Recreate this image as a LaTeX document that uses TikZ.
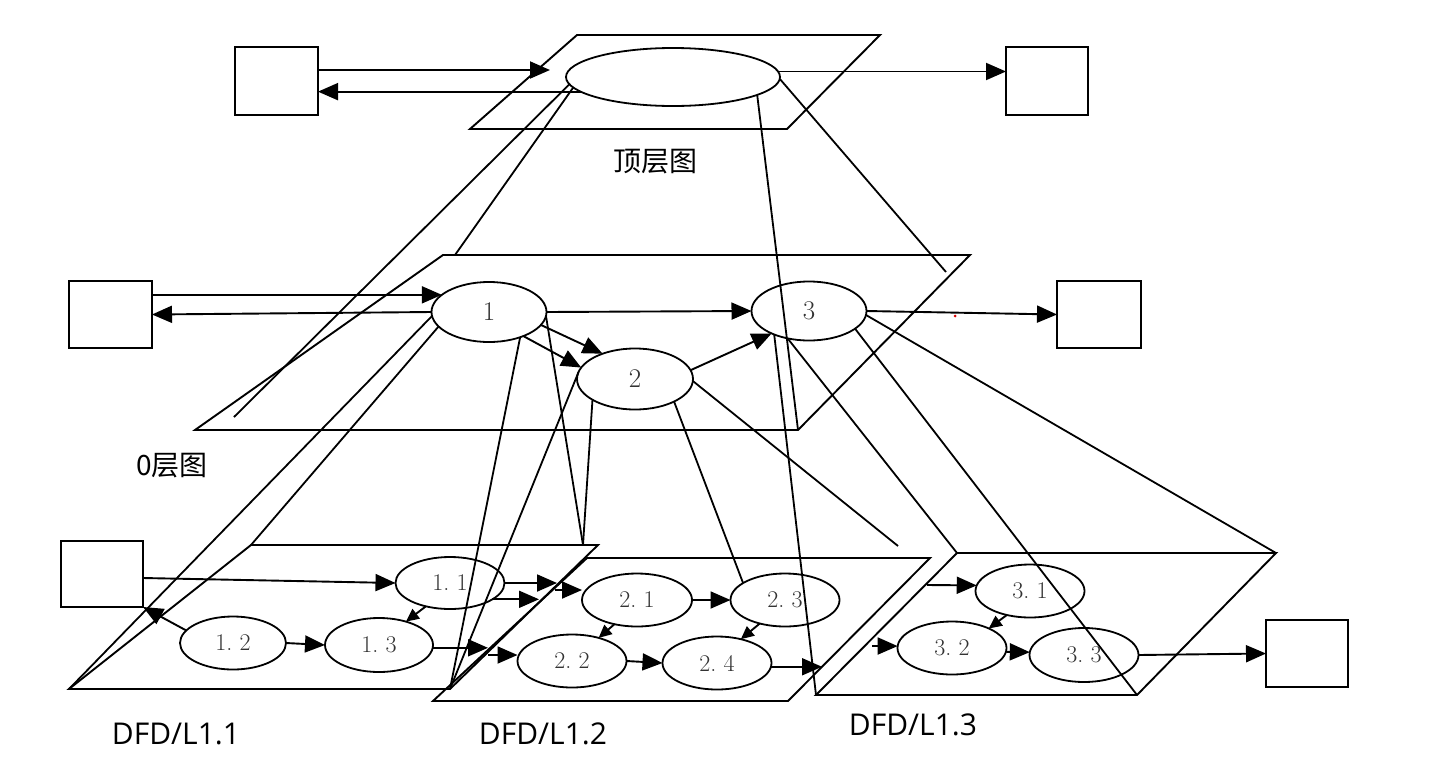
\documentclass[tikz,border=0pt]{standalone}
\usepackage{fontspec}
\newfontfamily\cjk{Noto Sans CJK SC}
\newfontfamily\labelsans{Open Sans}
\usetikzlibrary{arrows.meta,shapes.geometric}

\begin{document}
\begin{tikzpicture}[x=1pt,y=-1pt,
  line width=1.9pt,
  every node/.style={inner sep=0pt,outer sep=0pt},
  ext/.style={draw,rectangle,line width=1.9pt},
  bub/.style={draw,ellipse,line width=1.8pt,text=black!80,
    font=\fontsize{24}{24}\selectfont},
  bigbub/.style={bub,font=\fontsize{27}{27}\selectfont},
  flow/.style={-{Triangle[length=20pt,width=17pt]}},
  sflow/.style={-{Triangle[length=13pt,width=12pt]}},
  plane/.style={line width=1.9pt,line join=miter},
  proj/.style={line width=1.8pt},
  cjklabel/.style={font=\cjk\fontsize{28}{28}\selectfont},
  dfdlabel/.style={font=\labelsans\fontsize{30}{30}\selectfont},
]
\useasboundingbox (0,0) rectangle (1429,766);

% ---------- plane corners ----------
\coordinate (p0a) at (577,35);  \coordinate (p0b) at (880,35);
\coordinate (p0c) at (787,129); \coordinate (p0d) at (470,129);
\coordinate (p1a) at (443,255); \coordinate (p1b) at (970,255);
\coordinate (p1c) at (798,430); \coordinate (p1d) at (195,430);
\coordinate (p2aa) at (251,545); \coordinate (p2ab) at (598,545);
\coordinate (p2ac) at (450,689); \coordinate (p2ad) at (69,689);
\coordinate (p2ba) at (587,558); \coordinate (p2bb) at (930,558);
\coordinate (p2bc) at (788,701); \coordinate (p2bd) at (433,701);
\coordinate (p2ca) at (957,553); \coordinate (p2cb) at (1276,553);
\coordinate (p2cc) at (1137,695); \coordinate (p2cd) at (816,695);

\draw[plane] (p0a) -- (p0b) -- (p0c) -- (p0d) -- cycle;
\draw[plane] (p1a) -- (p1b) -- (p1c) -- (p1d) -- cycle;
\draw[plane] (p2aa) -- (p2ab) -- (p2ac) -- (p2ad) -- cycle;
\draw[plane] (p2ba) -- (p2bb) -- (p2bc) -- (p2bd) -- cycle;
\draw[plane] (p2ca) -- (p2cb) -- (p2cc) -- (p2cd) -- cycle;

% ---------- top level ----------
\node[ext,minimum width=83pt,minimum height=68pt] (b0l) at (276.5,81) {};
\node[ext,minimum width=82pt,minimum height=68pt] (b0r) at (1047,81) {};
\node[bub,minimum width=214pt,minimum height=58pt] (E0) at (673,77) {};

\coordinate (t0in) at (550,70);
\draw[flow] (b0l.east |- t0in) -- (t0in);
\draw[flow] (E0.189) -- (E0.189 -| b0l.east);
\draw[flow] (E0.3) -- (E0.3 -| b0r.west);

% ---------- level 0 ----------
\node[ext,minimum width=83pt,minimum height=67pt] (b1l) at (110.5,314.5) {};
\node[ext,minimum width=84pt,minimum height=67pt] (b1r) at (1099,314.5) {};
\node[bigbub,minimum width=115pt,minimum height=60pt] (e1) at (489,312) {1};
\node[bigbub,minimum width=116pt,minimum height=61pt] (e2) at (635,379) {2};
\node[bigbub,minimum width=115pt,minimum height=59pt] (e3) at (809,311) {3};

\draw[flow] (b1l.east |- e1.160) -- (e1.160);
\draw[flow] (e1.west) -- (b1l.east);
\draw[flow] (e1.east) -- (e3.west);
\draw[flow] (e1.346) -- (e2.142);
\draw[flow] (e1.325) -- (e2.168);
\draw[flow] (e2.9) -- (e3.211);
\draw[flow] (e3.east) -- (b1r.west);
\fill[red!85!black] (955,316) circle (1.5pt);

% ---------- level 1 ----------
\node[ext,minimum width=82pt,minimum height=66pt] (b2l) at (102,574) {};
\node[ext,minimum width=82pt,minimum height=67pt] (b2r) at (1307,653.5) {};

\node[bub,minimum width=109pt,minimum height=52pt] (e11) at (450,583) {1.\ 1};
\node[bub,minimum width=106pt,minimum height=53pt] (e12) at (233,643) {1.\ 2};
\node[bub,minimum width=108pt,minimum height=54pt] (e13) at (379,645) {1.\ 3};
\node[bub,minimum width=110pt,minimum height=53pt] (e21) at (637,600) {2.\ 1};
\node[bub,minimum width=109pt,minimum height=53pt] (e22) at (572,661) {2.\ 2};
\node[bub,minimum width=109pt,minimum height=53pt] (e23) at (785,600) {2.\ 3};
\node[bub,minimum width=109pt,minimum height=53pt] (e24) at (717,663) {2.\ 4};
\node[bub,minimum width=109pt,minimum height=53pt] (e31) at (1030,591) {3.\ 1};
\node[bub,minimum width=109pt,minimum height=53pt] (e32) at (952,648) {3.\ 2};
\node[bub,minimum width=109pt,minimum height=54pt] (e33) at (1084,655) {3.\ 3};

% DFD/L1.1
\draw[flow] ([yshift=-4pt]b2l.east) -- (e11.west);
\draw[flow] (e12.165) -- (b2l.south east);
\draw[flow] (e12.east) -- (e13.west);
\draw[sflow] (e11.224) -- (e13.41);
\coordinate (o11a) at (557,583);
\coordinate (o11b) at (539,599);
\coordinate (o13) at (488,648);
\draw[flow] (e11.east) -- (o11a);
\draw[flow] (e11.339) -- (e11.339 -| o11b);
\draw[flow] (e13.357) -- (e13.357 -| o13);

% DFD/L1.2
\coordinate (i21) at (555,590);
\coordinate (i22) at (488,655);
\coordinate (o24) at (822,667);
\draw[flow] (i21) -- (i21 -| e21.west);
\draw[flow] (i22) -- (i22 -| e22.west);
\draw[flow] (e21.east) -- (e23.west);
\draw[sflow] (e21.227) -- (e22.41);
\draw[flow] (e22.east) -- (e24.west);
\draw[sflow] (e23.223) -- (e24.45);
\draw[flow] (e24.356) -- (e24.356 -| o24);

% DFD/L1.3
\coordinate (i31) at (927,585);
\coordinate (i32) at (872,646);
\draw[flow] (i31) -- (e31.174);
\draw[flow] (i32) -- (e32.178);
\draw[sflow] (e31.226) -- (e32.28);
\draw[flow] (e32.356) -- (e33.177);
\draw[flow] (e33.east) -- (b2r.west);

% ---------- decomposition lines ----------
\coordinate (qA) at (234,417);
\coordinate (qB) at (455,255);
\coordinate (qC) at (946,272);
\coordinate (qD) at (583,545);
\coordinate (qE) at (898,546);

\draw[proj] (E0.184) -- (qA);
\draw[proj] (E0.186) -- (qB);
\draw[proj] (E0.359) -- (qC);
\draw[proj] (E0.348) -- (p1c);

\draw[proj] (e1.184) -- (p2ad);
\draw[proj] (e1.196) -- (p2aa);
\draw[proj] (e1.321) -- (p2ac);
\draw[proj] (e1.356) -- (qD);
\draw[proj] (e2.173) -- (p2ac);
\draw[proj] (e2.206) -- (qD);
\draw[proj] (e2.330) -- (e23.158);
\draw[proj] (e2.358) -- (qE);
\draw[proj] (e3.214) -- (p2cd);
\draw[proj] (e3.232) -- (p2ca);
\draw[proj] (e3.339) -- (p2cc);
\draw[proj] (e3.356) -- (p2cb);

% ---------- captions ----------
\node[cjklabel] (lt) at (655,162) {顶层图};
\node[cjklabel] (l0) at (172,466) {0层图};
\node[dfdlabel] (la) at (176,734) {DFD/L1.1};
\node[dfdlabel] (lb) at (543,734) {DFD/L1.2};
\node[dfdlabel] (lc) at (913,725) {DFD/L1.3};
\end{tikzpicture}
\end{document}
